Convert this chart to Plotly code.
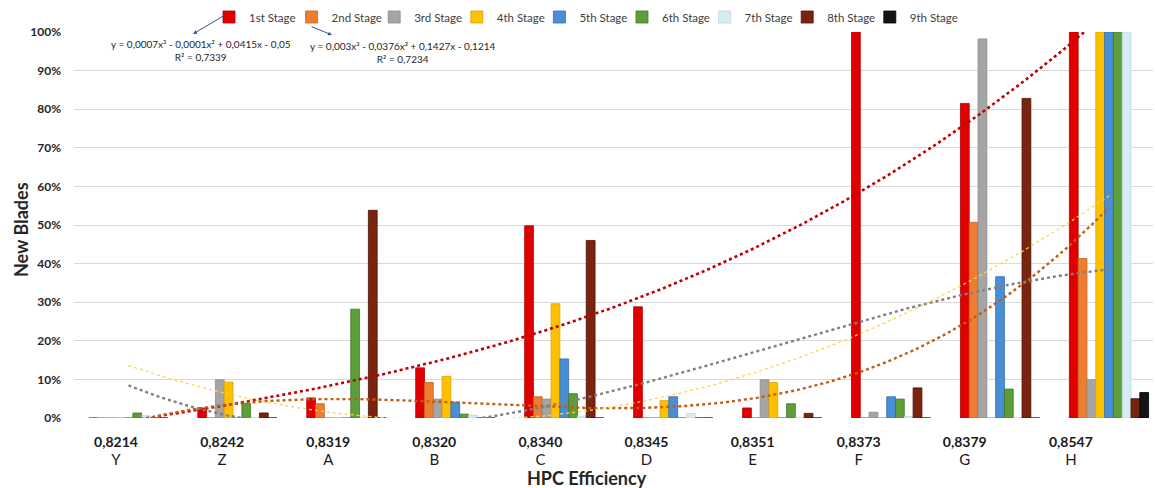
import numpy as np
import plotly.graph_objects as go

# HPC efficiency per engine and engine codes (category order)
efficiency = ["0,8214", "0,8242", "0,8319", "0,8320", "0,8340",
              "0,8345", "0,8351", "0,8373", "0,8379", "0,8547"]
engines = ["Y", "Z", "A", "B", "C", "D", "E", "F", "G", "H"]

stages = ["1st Stage", "2nd Stage", "3rd Stage", "4th Stage", "5th Stage",
          "6th Stage", "7th Stage", "8th Stage", "9th Stage"]

# share of new blades per stage (fraction)
stage1 = [0.000, 0.026, 0.052, 0.130, 0.498, 0.288, 0.026, 1.000, 0.815, 1.000]
stage2 = [0.000, 0.000, 0.037, 0.092, 0.055, 0.000, 0.000, 0.000, 0.507, 0.413]
stage3 = [0.000, 0.099, 0.000, 0.049, 0.049, 0.000, 0.099, 0.015, 0.982, 0.099]
stage4 = [0.000, 0.093, 0.000, 0.108, 0.296, 0.045, 0.092, 0.000, 0.000, 1.000]
stage5 = [0.000, 0.000, 0.000, 0.041, 0.153, 0.055, 0.000, 0.055, 0.366, 1.000]
stage6 = [0.013, 0.038, 0.282, 0.010, 0.063, 0.000, 0.037, 0.049, 0.075, 1.000]
stage7 = [0.006, 0.000, 0.000, 0.007, 0.005, 0.012, 0.000, 0.004, 0.000, 1.000]
stage8 = [0.000, 0.013, 0.538, 0.000, 0.460, 0.000, 0.012, 0.078, 0.828, 0.050]
stage9 = [0.000, 0.000, 0.000, 0.000, 0.000, 0.000, 0.000, 0.000, 0.000, 0.066]

stage_values = [stage1, stage2, stage3, stage4, stage5,
                stage6, stage7, stage8, stage9]

bar_colors = ["#E00000", "#ED7D31", "#A5A5A5", "#FFC000", "#4A8FD6",
              "#5E9E3A", "#D6ECF3", "#7A2410", "#141414"]
edge_colors = ["#B00000", "#C8621E", "#8A8A8A", "#D9A300", "#2F6EB0",
               "#3F7A22", "#B9D7E3", "#4A1005", "#000000"]

# published cubic trendlines (Excel x = 1..10)
trend1 = [0.0007, -0.0001, 0.0415, -0.05]
trend2 = [0.003, -0.0376, 0.1427, -0.1214]

font_family = "Lato, 'Open Sans', sans-serif"

# plot-area geometry in pixels, used to place the free-standing texts
W, H = 1155, 488
ML, MR, MT, MB = 74, 2, 32, 70
PW, PH = W - ML - MR, H - MT - MB


def px_x(x):
    return (x - ML) / PW


def px_y(y):
    return (H - MB - y) / PH


fig = go.Figure()

pos = np.arange(len(engines))
for name, vals, col, edge in zip(stages, stage_values, bar_colors, edge_colors):
    fig.add_trace(go.Bar(
        x=pos, y=vals, name=name,
        marker=dict(color=col, line=dict(color=edge, width=0.8)),
        hoverinfo="skip",
    ))

# blank trailing legend slot so the last entry's text is not cut off
fig.add_trace(go.Scatter(
    x=[None], y=[None], mode="lines", name=" ", line=dict(width=0),
    hoverinfo="skip", showlegend=True,
))

# trendlines evaluated on Excel's 1-based category index
xs = np.linspace(1, 10, 300)
idx = np.arange(1, 11)
fit3 = np.polyfit(idx, stage3, 3)
fit4 = np.polyfit(idx, stage4, 2)
trends = [
    (np.polyval(trend1, xs), "#C00000", 2.6),
    (np.polyval(trend2, xs), "#C55A11", 2.4),
    (np.polyval(fit3, xs), "#808080", 2.4),
    (np.polyval(fit4, xs), "#FFD24D", 1.3),
]
for ys, col, w in trends:
    fig.add_trace(go.Scatter(
        x=xs - 1, y=ys, mode="lines", showlegend=False, hoverinfo="skip",
        line=dict(color=col, width=w, dash="dot"),
    ))

# category labels: efficiency on top, engine code below
tick_text = [f"<b>{e}</b><br><span style='font-size:15px'>{c}</span>"
             for e, c in zip(efficiency, engines)]
fig.add_trace(go.Scatter(
    x=pos, y=[0] * len(pos), xaxis="x2", mode="markers",
    marker=dict(opacity=0), showlegend=False, hoverinfo="skip",
))

fig.update_layout(
    width=W, height=H,
    margin=dict(l=ML, r=MR, t=MT, b=MB),
    paper_bgcolor="white", plot_bgcolor="white",
    font=dict(family=font_family, color="#262626"),
    barmode="group", bargap=0.273, bargroupgap=0,
    showlegend=True,
    legend=dict(
        orientation="h", x=px_x(209), xanchor="left", y=1 + 15 / PH,
        yanchor="middle",
        font=dict(size=11.5, color="#404040"),
        entrywidth=37.6, itemwidth=30, bgcolor="rgba(0,0,0,0)",
        traceorder="normal",
    ),
    xaxis=dict(
        range=[-0.5, 9.404], showticklabels=False, showgrid=False,
        zeroline=False, showline=False, ticks="",
    ),
    xaxis2=dict(
        overlaying="x", side="bottom", anchor="y",
        range=[-0.396, 9.774], tickmode="array",
        tickvals=list(range(len(engines))), ticktext=tick_text,
        tickfont=dict(size=14, color="#1a1a1a"),
        showgrid=False, zeroline=False, showline=False, ticks="",
        ticklabelstandoff=14,
    ),
    yaxis=dict(
        range=[0, 1], dtick=0.1, tickformat=".0%",
        tickfont=dict(size=12, weight="bold", color="#262626"),
        gridcolor="#D9D9D9", gridwidth=1, zeroline=False, showline=False,
        ticks="", ticklabelstandoff=12,
    ),
)

# axis titles
fig.add_annotation(
    xref="paper", yref="paper", x=px_x(587), y=px_y(478),
    xanchor="center", yanchor="middle", showarrow=False,
    text="<b>HPC Efficiency</b>", font=dict(size=18, color="#262626"),
)
fig.add_annotation(
    xref="paper", yref="paper", x=px_x(21), y=px_y(230),
    xanchor="center", yanchor="middle", showarrow=False, textangle=-90,
    text="<b>New Blades</b>", font=dict(size=18, color="#262626"),
)

# trendline equations with leader arrows to the legend entries
eq_font = dict(size=10, color="#262626", family=font_family)
fig.add_annotation(
    xref="paper", yref="paper", x=px_x(201), y=px_y(50.5),
    xanchor="center", yanchor="middle",
    text="y = 0,0007x³ - 0,0001x² + 0,0415x - 0,05<br>R² = 0,7339",
    showarrow=False, align="center", font=eq_font,
)
fig.add_annotation(
    xref="paper", yref="paper", x=px_x(403), y=px_y(52.5),
    xanchor="center", yanchor="middle",
    text="y = 0,003x³ - 0,0376x² + 0,1427x - 0,1214<br>R² = 0,7234",
    showarrow=False, align="center", font=eq_font,
)
fig.add_annotation(
    xref="paper", yref="paper", x=px_x(193), y=px_y(34),
    text="", showarrow=True, arrowhead=2, arrowsize=0.8, arrowwidth=1,
    arrowcolor="#2F5597", ax=32, ay=-19,
)
fig.add_annotation(
    xref="paper", yref="paper", x=px_x(332), y=px_y(35),
    text="", showarrow=True, arrowhead=2, arrowsize=0.8, arrowwidth=1,
    arrowcolor="#2F5597", ax=-22, ay=-9,
)

fig.write_html("out.html")
